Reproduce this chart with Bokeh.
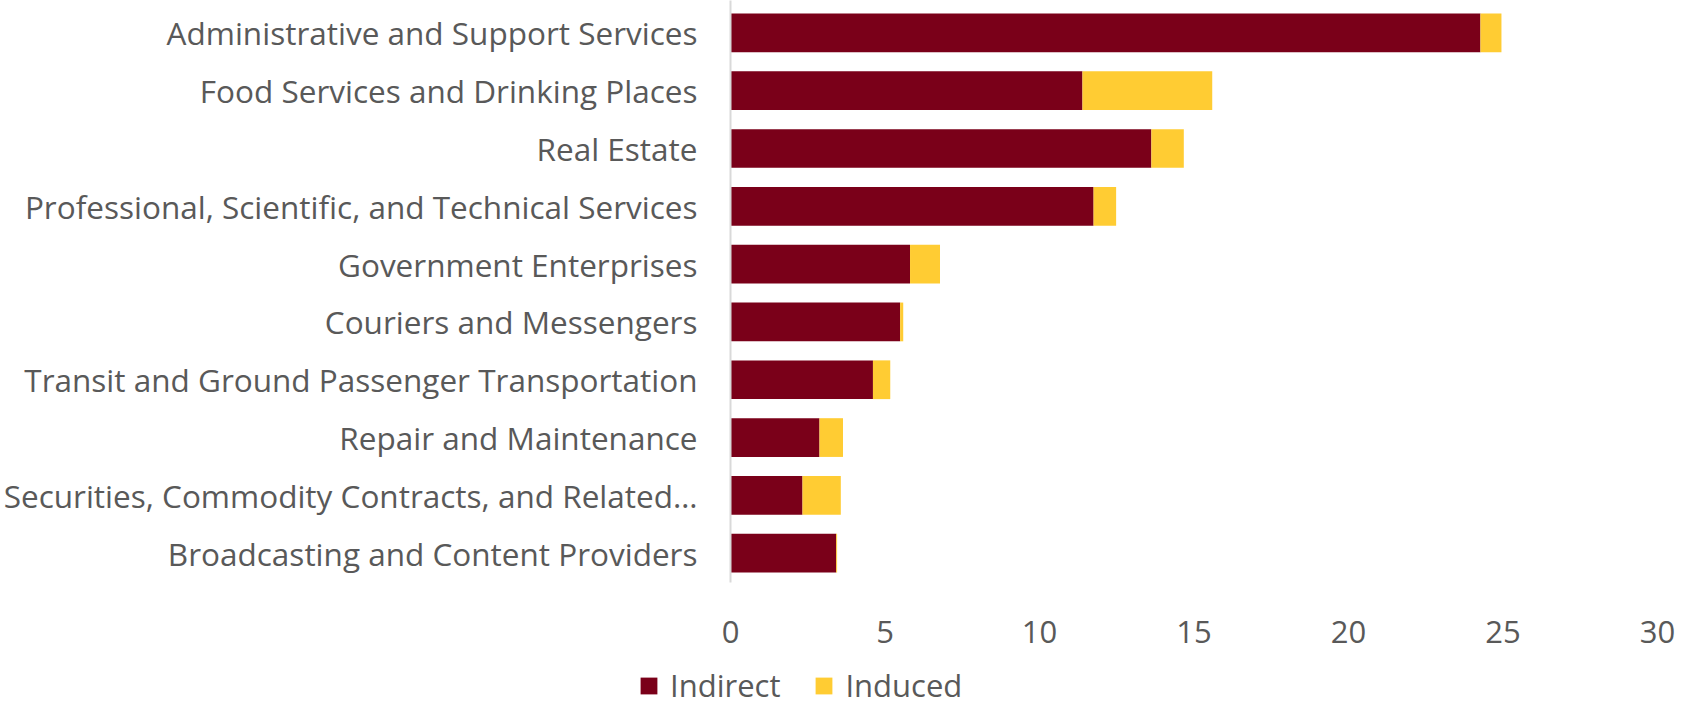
from bokeh.plotting import figure
from bokeh.layouts import column
from bokeh.models import ColumnDataSource, Range1d, FixedTicker, Legend, LegendItem
from bokeh.embed import file_html
from bokeh.resources import INLINE

categories = [
    "Administrative and Support Services",
    "Food Services and Drinking Places",
    "Real Estate",
    "Professional, Scientific, and Technical Services",
    "Government Enterprises",
    "Couriers and Messengers",
    "Transit and Ground Passenger Transportation",
    "Repair and Maintenance",
    "Securities, Commodity Contracts, and Related\u2026",
    "Broadcasting and Content Providers",
]
indirect = [24.27, 11.39, 13.62, 11.75, 5.81, 5.49, 4.61, 2.88, 2.33, 3.42]
induced = [0.68, 4.20, 1.05, 0.73, 0.97, 0.10, 0.56, 0.76, 1.24, 0.03]
x_ticks = [0, 5, 10, 15, 20, 25, 30]
series = ["Indirect", "Induced"]

MAROON = "#7A0019"
GOLD = "#FFCC33"
TEXT = "#595959"
FONT = "Open Sans"

pos = list(range(len(categories)))
total = [a + b for a, b in zip(indirect, induced)]
src = ColumnDataSource(dict(y=pos, indirect=indirect, total=total, zero=[0] * len(pos)))

p = figure(
    frame_width=927, frame_height=582,
    output_backend="svg", toolbar_location=None,
    x_range=Range1d(0, 30), y_range=Range1d(9.507, -0.56),
    min_border_left=730, min_border_right=19, min_border_top=0, min_border_bottom=0,
)
p.outline_line_color = None
p.background_fill_color = "white"
p.border_fill_color = "white"
p.xgrid.visible = False
p.ygrid.visible = False

p.hbar(y="y", left="zero", right="indirect", height=0.67, source=src,
       fill_color=MAROON, line_color=None)
p.hbar(y="y", left="indirect", right="total", height=0.67, source=src,
       fill_color=GOLD, line_color=None)

# y axis
ya = p.yaxis[0]
ya.ticker = FixedTicker(ticks=pos)
ya.major_label_overrides = {i: c for i, c in enumerate(categories)}
ya.axis_line_color = "#D9D9D9"
ya.axis_line_width = 2
ya.major_tick_line_color = None
ya.minor_tick_line_color = None
ya.major_tick_out = 0
ya.major_tick_in = 0
ya.major_label_standoff = 33
ya.major_label_text_font = FONT
ya.major_label_text_font_size = "31.5px"
ya.major_label_text_color = TEXT

# x axis
xa = p.xaxis[0]
xa.ticker = FixedTicker(ticks=x_ticks)
xa.axis_line_color = None
xa.major_tick_line_color = None
xa.minor_tick_line_color = None
xa.major_tick_out = 0
xa.major_tick_in = 0
xa.major_label_standoff = 38
xa.major_label_text_font = FONT
xa.major_label_text_font_size = "31px"
xa.major_label_text_color = TEXT

# legend strip below the chart (its bars fall outside its visible range)
p2 = figure(
    width=1676, height=61, output_backend="svg", toolbar_location=None,
    x_axis_type=None, y_axis_type=None,
    x_range=Range1d(0, 30), y_range=Range1d(100, 101),
    min_border_left=0, min_border_right=0, min_border_top=0, min_border_bottom=0,
)
p2.outline_line_color = None
p2.xgrid.visible = False
p2.ygrid.visible = False
k1 = p2.hbar(y="y", left="zero", right="indirect", height=0.67, source=src,
             fill_color=MAROON, line_color=None)
k2 = p2.hbar(y="y", left="indirect", right="total", height=0.67, source=src,
             fill_color=GOLD, line_color=None)

lx = 0
if "frame_align" in p2.properties():
    p2.frame_align = False
    lx = 638

legend = Legend(
    items=[LegendItem(label=series[0], renderers=[k1]),
           LegendItem(label=series[1], renderers=[k2])],
    orientation="horizontal",
    location=(lx, 0),
    padding=0, margin=0, spacing=33,
    glyph_width=21, glyph_height=21, label_standoff=11,
    label_text_font=FONT, label_text_font_size="31px", label_text_color=TEXT,
    border_line_color=None, background_fill_alpha=0,
)
p2.add_layout(legend, "center")

layout = column(p, p2, spacing=0)
open("out.html", "w").write(file_html(layout, INLINE))
